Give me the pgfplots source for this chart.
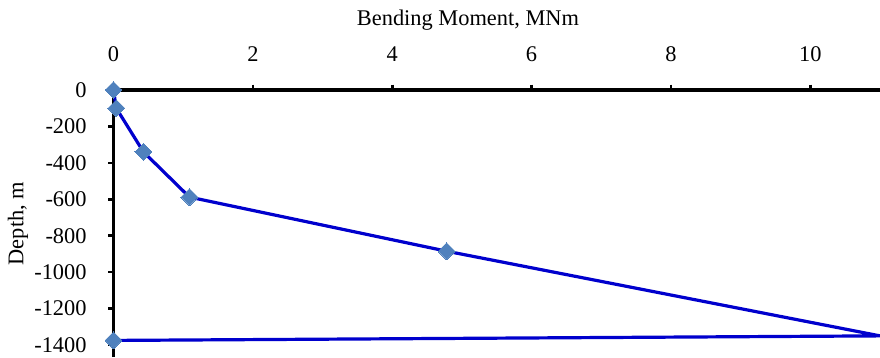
\documentclass[border=0pt]{standalone}
\usepackage{pgfplots}
\pgfplotsset{compat=1.18}
\usepackage{fontspec}
\setmainfont{Liberation Serif}
\definecolor{lineblue}{RGB}{0,0,205}
\definecolor{markblue}{RGB}{79,129,189}

\begin{document}
\begin{tikzpicture}
\useasboundingbox (-85.125pt,0pt) rectangle (574.875pt,267.75pt);
\begin{axis}[
  at={(0pt,0pt)}, anchor=south west,
  scale only axis,
  width=574.875pt, height=200.25pt,
  xmin=0, xmax=11,
  ymin=-1466, ymax=0,
  axis x line=top, axis y line=left,
  axis line style={line width=2.6pt,-},
  xtick={0,2,4,6,8,10},
  ytick={0,-200,-400,-600,-800,-1000,-1200,-1400},
  tick align=outside,
  major tick length=4pt,
  every tick/.style={line width=2pt,black},
  /pgf/number format/assume math mode=true,
  /pgf/number format/1000 sep={},
  tick label style={font=\fontsize{16.8}{20}\selectfont, inner sep=0pt},
  xticklabel style={anchor=south, yshift=17pt},
  yticklabel style={anchor=east, xshift=-16pt},
  clip=false,
]
\addplot[color=lineblue, line width=2.4pt,
  mark=square*, mark size=4.5pt, mark indices={1,2,3,4,5,7},
  mark options={rotate=45, fill=markblue, draw=markblue, line width=0pt}]
  coordinates {
    (0,0)
    (0.04,-100)
    (0.43,-340)
    (1.09,-588)
    (4.78,-885)
    (11.0,-1350)
    (0,-1375)
  };
\node[font=\fontsize{16.8}{20}\selectfont, anchor=center]
  at ([yshift=52.5pt]rel axis cs:0.4625,1) {Bending Moment, MNm};
\node[font=\fontsize{16.8}{20}\selectfont, rotate=90, anchor=center]
  at ([xshift=-71.6pt]rel axis cs:0,0.5) {Depth, m};
\end{axis}
\end{tikzpicture}
\end{document}
